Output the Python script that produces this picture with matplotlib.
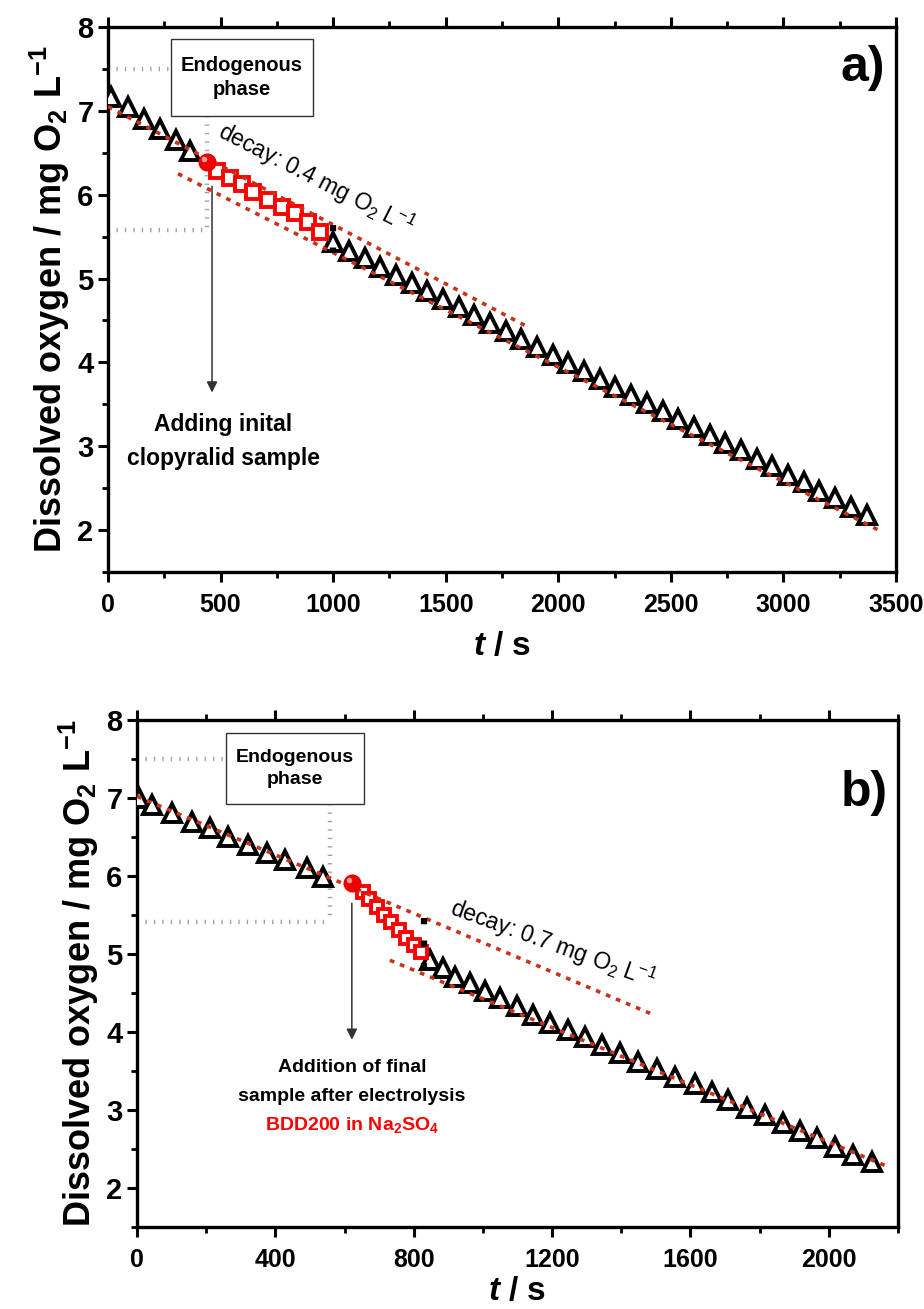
import matplotlib
matplotlib.use("Agg")
import matplotlib.pyplot as plt
import matplotlib.transforms as mtransforms
from matplotlib.patches import Rectangle

plt.rcParams['font.family'] = ['Liberation Sans', 'DejaVu Sans']
plt.rcParams['mathtext.fontset'] = 'custom'
plt.rcParams['mathtext.rm'] = 'Liberation Sans'
plt.rcParams['mathtext.it'] = 'Liberation Sans:italic'
plt.rcParams['mathtext.bf'] = 'Liberation Sans:bold'
plt.rcParams['mathtext.sf'] = 'Liberation Sans:bold:italic'

# ---------------- panel a) ----------------
a_endo_t = [15, 90, 160, 230, 300, 365]
a_endo_y = [7.17, 7.04, 6.90, 6.78, 6.65, 6.52]
a_add_t = [440]
a_add_y = [6.39]
a_red_t = [484, 542, 596, 644, 711, 773, 831, 889, 942]
a_red_y = [6.28, 6.20, 6.13, 6.03, 5.94, 5.85, 5.78, 5.68, 5.56]
a_post_t = [1000, 1070, 1140, 1209, 1279, 1349, 1418, 1488, 1558, 1627,
            1697, 1767, 1836, 1906, 1976, 2045, 2115, 2185, 2254, 2324,
            2394, 2463, 2533, 2603, 2672, 2742, 2812, 2881, 2951, 3021,
            3090, 3160, 3230, 3299, 3369]
a_post_y = [5.43, 5.33, 5.24, 5.14, 5.04, 4.95, 4.85, 4.76, 4.66, 4.57,
            4.47, 4.37, 4.28, 4.18, 4.09, 3.99, 3.90, 3.80, 3.71, 3.61,
            3.52, 3.42, 3.33, 3.23, 3.14, 3.04, 2.95, 2.85, 2.76, 2.66,
            2.57, 2.47, 2.38, 2.28, 2.18]
a_fit_up_t = [0, 1867]
a_fit_up_y = [7.05, 4.42]
a_fit_lo_t = [311, 3430]
a_fit_lo_y = [6.25, 1.99]
a_decay_t = [1000, 1000]
a_decay_y = [5.64, 5.31]
a_guide_h1 = ([0, 280], [7.5, 7.5])
a_guide_h2 = ([0, 440], [5.58, 5.58])
a_guide_v = ([440, 440], [6.94, 5.58])

# ---------------- panel b) ----------------
b_endo_t = [5, 43, 101, 159, 211, 263, 321, 376, 428, 491, 538]
b_endo_y = [7.00, 6.91, 6.81, 6.69, 6.61, 6.50, 6.40, 6.29, 6.20, 6.10, 5.99]
b_add_t = [621]
b_add_y = [5.91]
b_red_t = [652, 672, 694, 714, 735, 756, 778, 800, 822]
b_red_y = [5.80, 5.70, 5.60, 5.50, 5.41, 5.31, 5.21, 5.12, 5.03]
b_post_t = [847, 884, 919, 962, 1006, 1049, 1098, 1145, 1194, 1246,
            1295, 1344, 1396, 1448, 1503, 1555, 1613, 1662, 1708, 1763,
            1815, 1867, 1916, 1965, 2017, 2069, 2124]
b_post_y = [4.92, 4.82, 4.71, 4.63, 4.52, 4.44, 4.33, 4.22, 4.12, 4.03,
            3.93, 3.83, 3.73, 3.62, 3.52, 3.42, 3.34, 3.23, 3.13, 3.03,
            2.94, 2.83, 2.73, 2.64, 2.53, 2.43, 2.33]
b_fit_up_t = [0, 1483]
b_fit_up_y = [7.02, 4.24]
b_fit_lo_t = [731, 2162]
b_fit_lo_y = [4.92, 2.29]
b_decay_t = [830, 830]
b_decay_y = [5.46, 4.74]
b_guide_h1 = ([0, 257], [7.5, 7.5])
b_guide_h2 = ([0, 558], [5.41, 5.41])
b_guide_v = ([558, 558], [6.92, 5.41])

FIT_C = '#c8321a'
GUIDE_C = '#a0a0a0'
YLABEL = r'Dissolved oxygen / mg O$_{\mathbf{2}}$ L$^{\mathbf{-1}}$'
XLABEL = r'$\mathsf{t}$ / s'


def style_axis(ax, xmax, xmajor, xminor, xpad):
    ax.set_xlim(0, xmax)
    ax.set_ylim(1.5, 8)
    ax.set_xticks(range(0, xmax + 1, xmajor))
    ax.set_xticks(range(0, xmax + 1, xminor), minor=True)
    ax.set_yticks(range(2, 9))
    ax.set_yticks([1.5 + 0.5 * i for i in range(14)], minor=True)
    for s in ax.spines.values():
        s.set_linewidth(2.4)
    ax.tick_params(which='major', direction='out', length=7, width=2.2,
                   top=True, right=False)
    ax.tick_params(which='minor', direction='out', length=4.5, width=2.0,
                   top=True, right=False)
    ax.tick_params(axis='x', which='major', pad=8)
    for lb in ax.get_xticklabels():
        lb.set_fontweight('bold')
        lb.set_fontsize(18)
    for lb in ax.get_yticklabels():
        lb.set_fontweight('bold')
        lb.set_fontsize(21)
    ax.set_ylabel(YLABEL, fontsize=26, fontweight='bold', labelpad=4)
    ax.set_xlabel(XLABEL, fontsize=24, fontweight='bold', labelpad=xpad)


def draw_panel(fig, ax, d):
    g = dict(color=GUIDE_C, lw=3.2, ls=(0, (0.3, 1.6)), zorder=1)
    for gx, gy in d['guides']:
        ax.plot(gx, gy, **g)

    ax.add_patch(Rectangle((d['box'][0], d['box'][2]), d['box'][1] - d['box'][0],
                           d['box'][3] - d['box'][2], fill=False,
                           edgecolor='#333333', lw=1.0, zorder=2))
    bx = 0.5 * (d['box'][0] + d['box'][1])
    by = 0.5 * (d['box'][2] + d['box'][3])
    ax.text(bx, by, 'Endogenous\nphase', ha='center', va='center',
            fontsize=d['boxfs'], fontweight='bold', linespacing=1.35, zorder=3)

    tri = dict(ls='none', marker='^', ms=12.5, mfc='white', mec='black',
               mew=2.8, zorder=4)
    ax.plot(d['endo'][0], d['endo'][1], **tri)
    ax.plot(d['post'][0], d['post'][1], **tri)
    ax.plot(d['red'][0], d['red'][1], ls='none', marker='s', ms=d['sq'],
            mfc='white', mec='#ff0000', mew=2.8, zorder=5)

    fit = dict(color=FIT_C, lw=2.6, ls=(0, (1.3, 1.7)), zorder=6)
    ax.plot(d['fit_up'][0], d['fit_up'][1], **fit)
    ax.plot(d['fit_lo'][0], d['fit_lo'][1], **fit)
    ax.plot(d['decay'][0], d['decay'][1], color='black', lw=4.5,
            ls=(0, (1, 2.6)), zorder=7)

    ax.plot(d['add'][0], d['add'][1], ls='none', marker='o', ms=12,
            mfc='#f00000', mec='#e00000', zorder=8)
    hl = ax.transData + mtransforms.ScaledTranslation(-2.2 / 72, 2.2 / 72,
                                                      fig.dpi_scale_trans)
    ax.plot(d['add'][0], d['add'][1], ls='none', marker='o', ms=4,
            mfc='#ff9a9a', mec='none', zorder=9, transform=hl)

    ax.annotate('', xy=(d['arrow'][0], d['arrow'][2]),
                xytext=(d['arrow'][0], d['arrow'][1]),
                arrowprops=dict(arrowstyle='-|>', color='#333333', lw=1.1,
                                mutation_scale=16, shrinkA=0, shrinkB=0),
                zorder=3)

    ax.text(d['dtext'][0], d['dtext'][1], d['dtext'][3], rotation=d['dtext'][2],
            rotation_mode='anchor', ha='center', va='center', fontsize=16.5,
            zorder=9)
    for (tx, ty, s, c, fs) in d['notes']:
        ax.text(tx, ty, s, ha='center', va='center', fontsize=fs,
                fontweight='bold', color=c, zorder=9)
    ax.text(0.986, d['tagy'], d['tag'], transform=ax.transAxes, ha='right',
            va='center', fontsize=36, fontweight='bold')


def main():
    fig = plt.figure(figsize=(9.24, 13.09), dpi=100)
    ax1 = fig.add_axes([0.1169, 0.563, 0.8528, 0.4164])
    ax2 = fig.add_axes([0.1483, 0.0626, 0.8236, 0.3874])

    style_axis(ax1, 3500, 500, 250, 10)
    style_axis(ax2, 2200, 400, 200, 3)

    da = dict(guides=[a_guide_h1, a_guide_h2, a_guide_v],
              box=(280, 911, 6.94, 7.86), boxfs=14.5,
              endo=(a_endo_t, a_endo_y), post=(a_post_t, a_post_y),
              red=(a_red_t, a_red_y), sq=9.5, add=(a_add_t, a_add_y),
              fit_up=(a_fit_up_t, a_fit_up_y), fit_lo=(a_fit_lo_t, a_fit_lo_y),
              decay=(a_decay_t, a_decay_y), arrow=(462, 6.1, 3.64),
              dtext=(924, 6.19, -27, r'decay: 0.4 mg O$_2$ L$^{-1}$'),
              notes=[(511, 3.26, 'Adding inital', 'black', 16.5),
                     (511, 2.85, 'clopyralid sample', 'black', 16.5)],
              tag='a)', tagy=0.925)
    db = dict(guides=[b_guide_h1, b_guide_h2, b_guide_v],
              box=(257, 656, 6.92, 7.83), boxfs=14,
              endo=(b_endo_t, b_endo_y), post=(b_post_t, b_post_y),
              red=(b_red_t, b_red_y), sq=9, add=(b_add_t, b_add_y),
              fit_up=(b_fit_up_t, b_fit_up_y), fit_lo=(b_fit_lo_t, b_fit_lo_y),
              decay=(b_decay_t, b_decay_y), arrow=(621, 5.65, 3.9),
              dtext=(1202, 5.13, -20, r'decay: 0.7 mg O$_2$ L$^{-1}$'),
              notes=[(621, 3.55, 'Addition of final', 'black', 14),
                     (621, 3.17, 'sample after electrolysis', 'black', 14),
                     (621, 2.81, r'BDD200 in Na$_{\mathbf{2}}$SO$_{\mathbf{4}}$',
                      '#ff0000', 14)],
              tag='b)', tagy=0.856)
    draw_panel(fig, ax1, da)
    draw_panel(fig, ax2, db)

    fig.savefig('out.png', dpi=100)


if __name__ == "__main__":
    main()
